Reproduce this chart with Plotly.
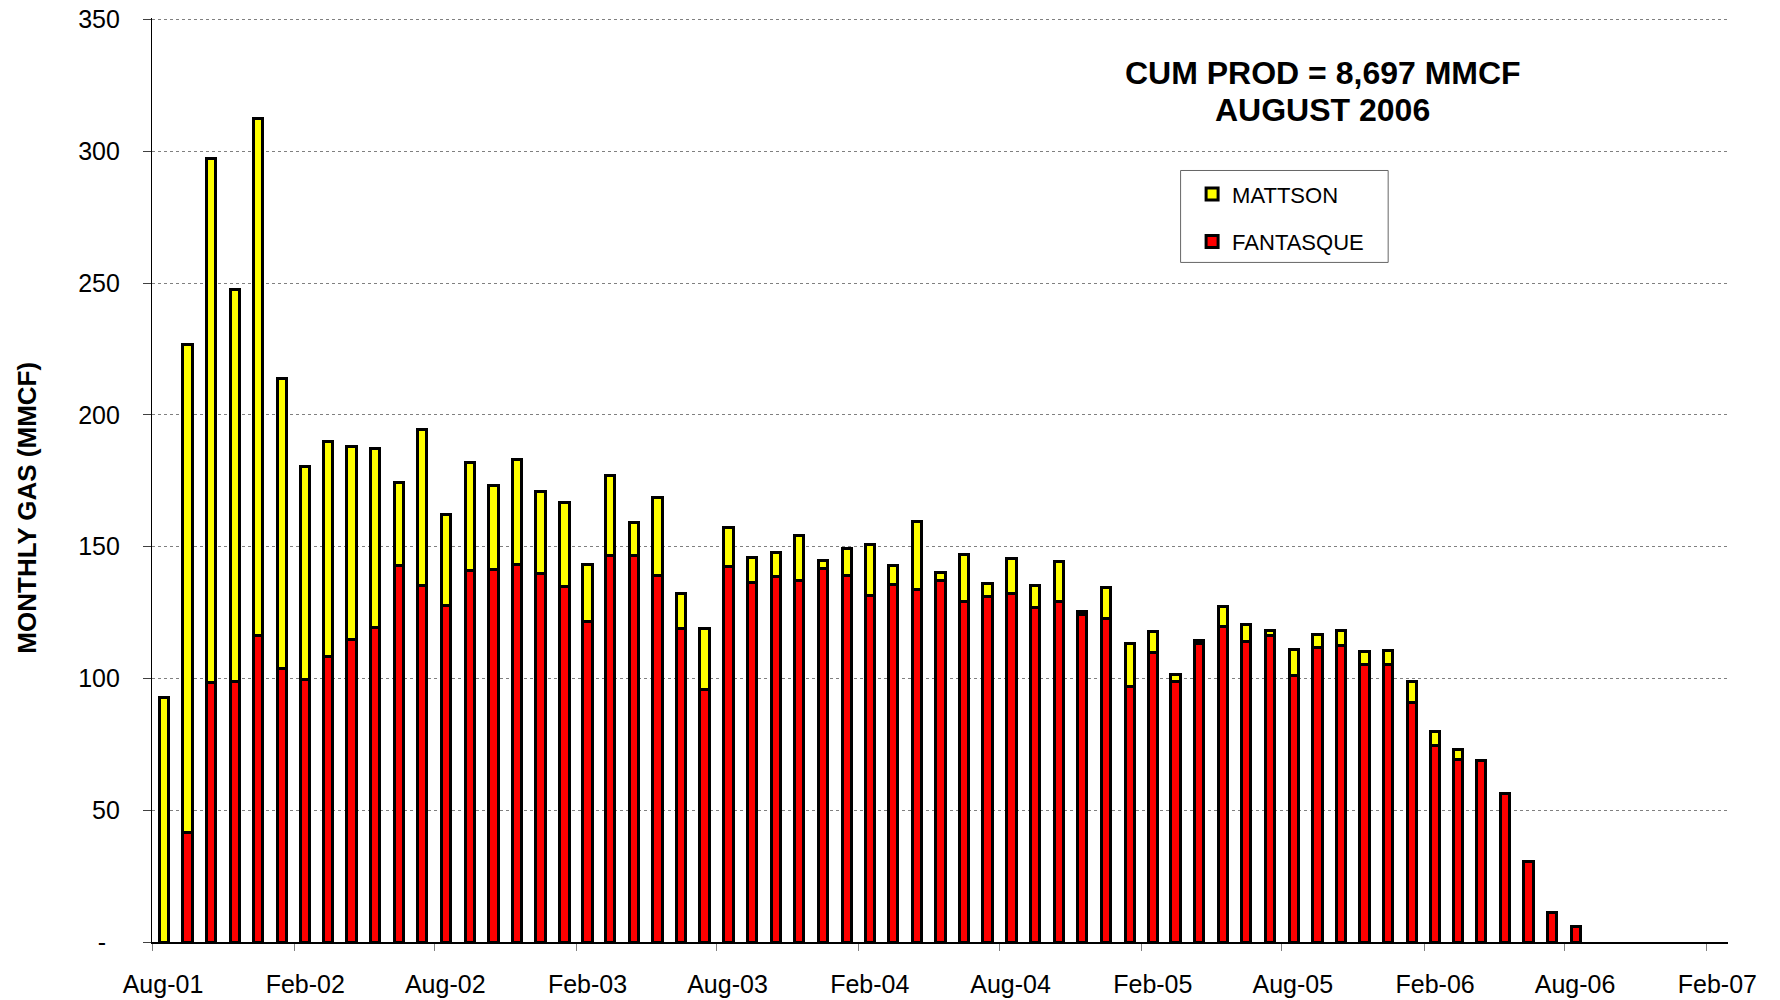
import pandas as pd
import plotly.graph_objects as go

# ---------------- data (MMCF per month) ----------------
months = pd.date_range("2001-08-01", "2006-08-01", freq="MS").strftime("%Y-%m").tolist()

fantasque = [0.0, 41.6, 98.3, 98.9, 116.4, 103.7, 99.7, 108.3, 114.7, 119.3,
             142.7, 135.3, 127.6, 141.1, 141.3, 143.1, 139.7, 135.0, 121.8, 146.8,
             146.7, 139.1, 118.8, 95.7, 142.6, 136.5, 138.8, 137.2, 141.6, 139.0,
             131.3, 135.5, 133.6, 137.2, 129.3, 131.2, 132.2, 126.8, 129.3, 124.2,
             122.9, 96.8, 109.9, 98.7, 113.4, 119.6, 113.9, 116.2, 101.0, 111.7,
             112.4, 105.2, 105.2, 90.7, 74.7, 69.1, 68.8, 56.2, 30.6, 11.1,
             5.9]

mattson = [92.9, 185.0, 199.0, 148.8, 196.1, 110.3, 80.8, 81.6, 73.4, 67.8,
           31.6, 59.1, 34.7, 40.8, 32.1, 40.1, 31.1, 31.8, 21.3, 30.2,
           12.3, 29.6, 13.5, 23.3, 14.6, 9.4, 9.0, 17.1, 3.2, 10.3,
           19.4, 7.5, 25.8, 3.1, 17.9, 4.7, 13.2, 8.4, 14.9, 1.2,
           11.5, 16.6, 7.9, 2.9, 1.1, 7.7, 6.7, 1.9, 9.9, 4.8,
           5.7, 5.2, 5.4, 8.2, 5.1, 4.1, 0.0, 0.0, 0.0, 0.0,
           0.0]

y_tickvals = [0, 50, 100, 150, 200, 250, 300, 350]
y_ticktext = ["-\u00a0\u00a0", "50", "100", "150", "200", "250", "300", "350"]

title_line1 = "CUM PROD = 8,697 MMCF"
title_line2 = "AUGUST 2006"
y_title = "MONTHLY GAS (MMCF)"

# ---------------- layout helpers ----------------
OFF = 8                      # page body margin offset
W, H = 1780 - OFF, 1000 - OFF
Y_MAX = 350.6
# plot area in screen px
L, R, B = 152.3, 1727.7, 942.3
T = B - (B - 19.3) * Y_MAX / 350.0


def px_x(px):
    return (px - L) / (R - L)


def px_y(py):
    return (B - py) / (B - T)


FONT = "Liberation Sans, Arial, sans-serif"

starts = pd.to_datetime([m + "-01" for m in months])
nexts = starts + pd.offsets.MonthBegin(1)
centers = starts + (nexts - starts) / 2
bar_w = 12 * 24 * 3600 * 1000  # ms

fig = go.Figure()
fig.add_trace(go.Bar(
    x=centers, y=fantasque, name="FANTASQUE", legendgroup="f", legendrank=2,
    width=bar_w, marker=dict(color="#FF0000", line=dict(color="black", width=3)),
))
fig.add_trace(go.Bar(
    x=centers, y=mattson, name="MATTSON", legendgroup="m", legendrank=1,
    width=bar_w, marker=dict(color="#FFFF00", line=dict(color="black", width=3)),
))

fig.update_layout(
    width=W, height=H,
    margin=dict(l=L - OFF, r=W - (R - OFF), t=T - OFF, b=H - (B - OFF), autoexpand=False),
    barmode="stack",
    plot_bgcolor="white", paper_bgcolor="white",
    font=dict(family=FONT, size=25, color="black"),
    showlegend=True,
    legend=dict(
        x=px_x(1192), y=px_y(173), xanchor="left", yanchor="top",
        traceorder="grouped", tracegroupgap=16,
        bgcolor="rgba(0,0,0,0)", borderwidth=0,
        font=dict(family=FONT, size=22, color="black"),
    ),
    xaxis=dict(
        type="date",
        range=["2001-08-01", "2007-03-01"],
        tick0="2001-08-01", dtick="M6", tickformat="%b-%y",
        ticks="outside", ticklen=7, tickwidth=1, tickcolor="#808080",
        ticklabelshift=11, ticklabelstandoff=12,
        showline=True, linecolor="black", linewidth=1.5,
        showgrid=False, zeroline=False,
        tickfont=dict(family=FONT, size=25, color="black"),
    ),
    yaxis=dict(
        range=[0, Y_MAX],
        tickvals=y_tickvals, ticktext=y_ticktext,
        ticks="outside", ticklen=8, tickwidth=1, tickcolor="#404040",
        ticklabelstandoff=18, ticklabeloverflow="allow",
        showline=True, linecolor="black", linewidth=1.3,
        showgrid=True, gridcolor="#808080", gridwidth=1, griddash="dot",
        zeroline=False,
        tickfont=dict(family=FONT, size=25, color="black"),
    ),
    shapes=[dict(
        type="rect", xref="paper", yref="paper",
        x0=px_x(1180.5), x1=px_x(1388), y0=px_y(262.3), y1=px_y(170.3),
        line=dict(color="#666666", width=1), fillcolor="rgba(0,0,0,0)", layer="above",
    )],
    annotations=[
        dict(text="<b>" + title_line1 + "</b>", xref="paper", yref="paper",
             x=px_x(1322.5), y=px_y(72.7), xanchor="center", yanchor="middle",
             showarrow=False, font=dict(family=FONT, size=32, color="black")),
        dict(text="<b>" + title_line2 + "</b>", xref="paper", yref="paper",
             x=px_x(1322.5), y=px_y(109.3), xanchor="center", yanchor="middle",
             showarrow=False, font=dict(family=FONT, size=32, color="black")),
        dict(text="<b>" + y_title + "</b>", xref="paper", yref="paper",
             x=px_x(27), y=px_y(508), xanchor="center", yanchor="middle",
             textangle=-90, showarrow=False,
             font=dict(family=FONT, size=26, color="black")),
    ],
)

fig.write_html("out.html")
